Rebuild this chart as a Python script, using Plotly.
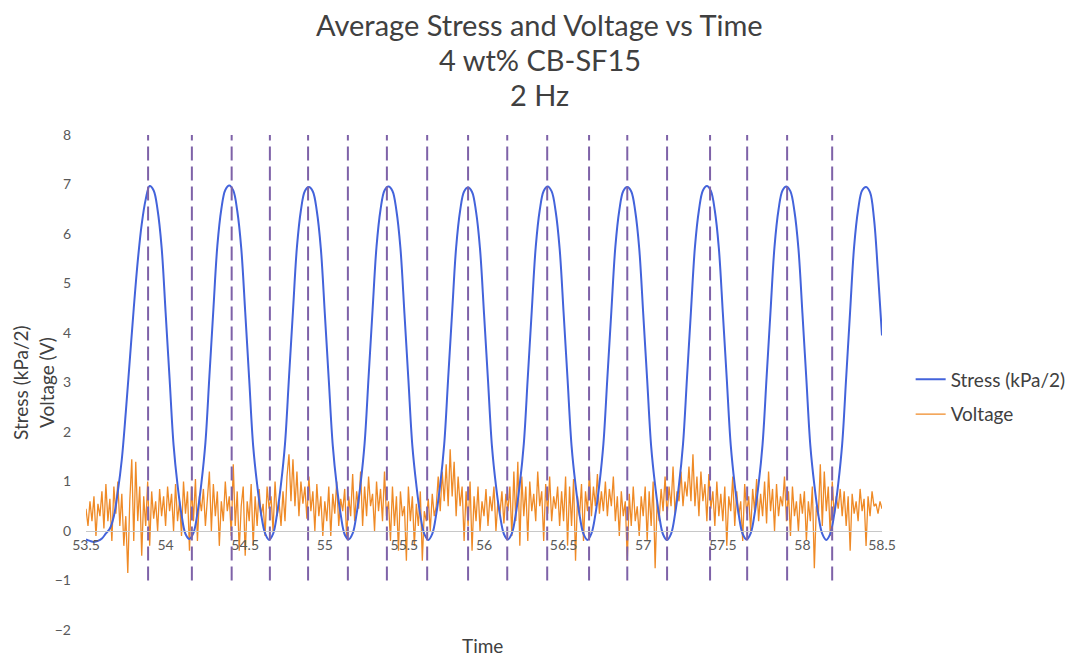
import numpy as np
import plotly.graph_objects as go

# ---- data -------------------------------------------------------------
# stress signal (kPa/2), sampled every 0.025 s starting at 53.5 s
STRESS_T0 = 53.5
STRESS_DT = 0.025
stress = [
    -0.17, -0.2, -0.22, -0.2, -0.15, -0.05, 0.05, 0.3, 0.8, 1.45, 2.4, 3.45, 4.5, 5.45, 6.2, 6.7, 6.97, 6.88, 6.48, 5.73,
    4.42, 3.08, 1.74, 0.93, 0.33, -0.06, -0.16, -0.04, 0.36, 0.97, 1.78, 3.12, 4.47, 5.76, 6.5, 6.89, 6.98, 6.88, 6.47, 5.72,
    4.43, 3.07, 1.72, 0.94, 0.34, -0.05, -0.18, -0.06, 0.34, 0.95, 1.76, 3.1, 4.44, 5.74, 6.48, 6.87, 6.95, 6.86, 6.46, 5.71,
    4.4, 3.05, 1.73, 0.92, 0.33, -0.07, -0.17, -0.05, 0.35, 0.96, 1.77, 3.11, 4.46, 5.75, 6.49, 6.88, 6.96, 6.87, 6.47, 5.72,
    4.41, 3.06, 1.72, 0.93, 0.32, -0.06, -0.18, -0.06, 0.34, 0.94, 1.75, 3.09, 4.43, 5.73, 6.47, 6.86, 6.94, 6.85, 6.45, 5.7,
    4.4, 3.05, 1.71, 0.92, 0.33, -0.06, -0.17, -0.05, 0.35, 0.95, 1.76, 3.1, 4.45, 5.74, 6.48, 6.87, 6.96, 6.86, 6.46, 5.71,
    4.41, 3.06, 1.72, 0.93, 0.33, -0.06, -0.18, -0.05, 0.34, 0.95, 1.76, 3.1, 4.44, 5.74, 6.48, 6.87, 6.95, 6.86, 6.46, 5.71,
    4.4, 3.05, 1.71, 0.92, 0.32, -0.07, -0.18, -0.06, 0.34, 0.94, 1.75, 3.09, 4.44, 5.74, 6.48, 6.88, 6.97, 6.87, 6.47, 5.72,
    4.42, 3.07, 1.73, 0.93, 0.33, -0.06, -0.17, -0.05, 0.35, 0.95, 1.76, 3.1, 4.45, 5.75, 6.49, 6.88, 6.96, 6.86, 6.46, 5.71,
    4.41, 3.06, 1.72, 0.93, 0.33, -0.06, -0.18, -0.06, 0.34, 0.95, 1.76, 3.1, 4.45, 5.75, 6.49, 6.88, 6.95, 6.84, 6.3, 5.2,
    3.95,
]

# voltage signal (V), sampled every 0.0125 s starting at 53.5 s
VOLT_T0 = 53.5
VOLT_DT = 0.0125
voltage = [
    0.45, 0.1, 0.6, 0.2, 0.7, -0.1, 0.55, 0.3, 0.8, 0.05, 0.95, 0.2, 0.65, -0.2, 0.9, 0.35, 1.0, 0.1, 0.75, -0.3,
    0.3, -0.85, 0.6, 1.45, -0.2, 1.4, 0.2, 0.9, -0.5, 0.7, 0.1, 1.0, -0.3, 0.8, 0.25, 0.6, 0.0, 0.85, 0.3, 0.7,
    0.1, 0.9, 0.4, 0.75, 0.0, 0.95, 0.2, 0.6, -0.1, 1.0, 0.35, 0.8, -0.4, 0.9, 0.2, 1.05, -0.2, 0.7, 0.4, 0.85,
    0.1, 0.75, 1.2, 0.0, 0.95, 0.3, 0.8, -0.3, 0.6, 0.2, 1.0, 0.4, 0.7, -0.1, 1.35, 0.1, 0.8, -0.4, 0.5, 0.9,
    -0.5, 0.6, 0.2, 0.95, -0.3, 0.7, 0.1, 0.85, 0.3, 0.55, -0.1, 0.9, 0.45, 0.7, 0.0, 1.0, 0.3, 0.6, 0.1, 0.8,
    0.2, 1.1, 1.55, 0.6, 1.45, 0.5, 1.2, 0.3, 1.0, 0.55, 0.9, 0.25, 1.1, 0.4, 0.8, 0.0, 0.95, 0.3, 0.7, -0.1,
    0.6, 0.2, 0.9, -0.1, 0.75, 0.35, 1.0, 0.1, 0.65, 0.4, 0.85, -0.15, 0.7, 0.3, 1.15, 0.2, 0.8, 0.45, 1.2, 0.1,
    0.9, 0.3, 1.1, 0.5, 0.75, 0.0, 1.0, 0.4, 0.85, 0.2, 1.2, 0.3, 0.6, -0.2, 0.9, 0.1, 0.7, -0.4, 0.8, 0.3,
    0.5, -0.6, 0.9, 0.2, 0.7, -0.3, 0.55, 0.1, 0.8, -0.6, 0.4, 0.2, 0.65, 0.0, 0.75, 0.3, 0.5, 1.1, 0.4, 1.2,
    0.6, 1.35, 0.5, 1.65, 0.7, 1.4, 0.3, 1.1, 0.5, 0.9, -0.2, 0.8, 0.1, 1.0, -0.4, 0.7, 0.2, 0.9, 0.0, 0.6,
    0.3, 0.85, 0.1, 0.7, 0.4, 0.9, 0.0, 0.6, 0.35, 0.8, 0.15, 0.75, 0.4, 0.9, -0.1, 1.2, 0.2, 1.4, -0.3, 1.1,
    0.3, 0.9, -0.2, 1.0, 0.4, 0.75, 0.2, 1.2, 0.5, 0.8, -0.2, 0.95, 0.35, 1.1, 0.2, 0.7, 0.45, 0.9, 0.1, 0.8,
    0.2, 1.1, -0.3, 0.9, 0.1, 1.05, -0.6, 0.7, 0.3, 0.95, -0.2, 0.8, 0.4, 1.2, 0.3, 0.9, 0.5, 1.15, 0.35, 0.8,
    0.4, 1.0, 0.3, 0.85, 0.5, 1.1, 0.2, 0.7, -0.1, 0.8, 0.3, 0.6, -0.6, 0.75, 0.1, 0.9, 0.2, 0.5, -0.1, 0.7,
    0.3, 0.9, -0.2, 0.8, 0.1, 1.0, -0.75, 0.6, 0.2, 0.85, 0.4, 1.1, 0.3, 0.9, 0.5, 1.3, 0.35, 0.8, 0.6, 1.2,
    0.5, 1.0, 0.7, 1.3, 0.6, 1.55, 0.5, 1.1, 0.3, 1.2, 0.6, 0.95, 0.2, 1.15, 0.45, 0.8, 0.1, 1.0, 0.3, 0.75,
    0.2, 0.9, -0.3, 0.7, 0.4, 1.1, 0.1, 0.8, 0.3, 0.6, -0.2, 0.95, 0.35, 0.7, 0.0, 0.85, 0.4, 1.05, 0.2, 0.75,
    0.3, 1.0, 0.15, 1.2, 0.4, 0.85, 0.0, 0.95, 0.3, 0.7, 0.5, 1.1, 0.2, 0.8, -0.1, 0.9, 0.3, 0.6, 0.0, 0.75,
    0.35, 0.8, -0.2, 0.6, 0.2, 0.9, -0.75, 0.5, 0.3, 1.35, 0.1, 1.2, 0.4, 0.9, -0.1, 1.0, 0.3, 0.7, 0.45, 0.85,
    0.3, 0.8, 0.1, 0.7, -0.4, 0.75, 0.35, 0.6, 0.2, 0.85, 0.4, 0.65, -0.3, 0.7, 0.3, 0.8, 0.5, 0.55, 0.35, 0.6,
    0.45,
]

# times of the stress peaks / troughs that are marked with vertical dashed lines
marker_times = [53.89, 54.165, 54.415, 54.655, 54.895, 55.145, 55.39, 55.643, 55.90,
                56.146, 56.397, 56.66, 56.90, 57.15, 57.42, 57.653, 57.904, 58.187]
MARKER_Y = (-1, 8)

x_ticks = [53.5, 54, 54.5, 55, 55.5, 56, 56.5, 57, 57.5, 58, 58.5]
x_ticktext = ["53.5", "54", "54.5", "55", "55.5", "56", "56.5", "57", "57.5", "58", "58.5"]
y_ticks = [-2, -1, 0, 1, 2, 3, 4, 5, 6, 7, 8]

title_lines = ["Average Stress and Voltage vs Time", "4 wt% CB-SF15", "2 Hz"]

# ---- figure -----------------------------------------------------------
FONT = "Lato, 'Open Sans', sans-serif"
TEXT = "#404040"
TICK = "#595959"

PLOT_TOP, PLOT_H = 135, 495   # plot area in pixels (top edge, height)


def paper_y(py):
    """Convert a pixel row into a paper y coordinate."""
    return 1 - (py - PLOT_TOP) / PLOT_H


t_stress = STRESS_T0 + STRESS_DT * np.arange(len(stress))
t_volt = VOLT_T0 + VOLT_DT * np.arange(len(voltage))

mx, my = [], []
for t in marker_times:
    mx += [t, t, None]
    my += [MARKER_Y[0], MARKER_Y[1], None]

fig = go.Figure()
fig.add_trace(go.Scatter(
    x=t_volt, y=voltage, mode="lines", name="Voltage",
    line=dict(color="#EF8A26", width=1.3), legendgroup="v", legendrank=2,
))
fig.add_trace(go.Scatter(
    x=t_stress, y=stress, mode="lines", name="Stress (kPa/2)",
    line=dict(color="#4363DB", width=2, shape="spline"), legendgroup="s", legendrank=1,
))
fig.add_trace(go.Scatter(
    x=mx, y=my, mode="lines", showlegend=False, hoverinfo="skip",
    line=dict(color="#7E62A8", width=2, dash="14px,6px"),
))

annotations = []
for line_text, py in zip(title_lines, [25, 60, 95]):
    annotations.append(dict(
        text=line_text, xref="paper", yref="paper",
        x=(539 - 86) / 795, y=paper_y(py), xanchor="center", yanchor="middle",
        showarrow=False, font=dict(family=FONT, size=29, color=TEXT),
    ))
annotations += [
    dict(text="Time", xref="paper", yref="paper", x=(482 - 86) / 795, y=paper_y(645),
         xanchor="center", yanchor="middle", showarrow=False,
         font=dict(family=FONT, size=19, color=TEXT)),
    dict(text="Stress (kPa/2)", xref="paper", yref="paper", x=(20 - 86) / 795, y=paper_y(382),
         xanchor="center", yanchor="middle", showarrow=False, textangle=-90,
         font=dict(family=FONT, size=19, color=TEXT)),
    dict(text="Voltage (V)", xref="paper", yref="paper", x=(46 - 86) / 795, y=paper_y(382),
         xanchor="center", yanchor="middle", showarrow=False, textangle=-90,
         font=dict(family=FONT, size=19, color=TEXT)),
]

fig.update_layout(
    width=1076, height=657,
    margin=dict(l=86, r=194, t=135, b=27, autoexpand=False),
    paper_bgcolor="white", plot_bgcolor="white",
    font=dict(family=FONT, color=TEXT),
    showlegend=True,
    legend=dict(
        x=1.036, xanchor="left", y=paper_y(397), yanchor="middle",
        font=dict(family=FONT, size=19, color=TEXT),
        tracegroupgap=7, itemwidth=30,
        bgcolor="rgba(0,0,0,0)",
    ),
    xaxis=dict(
        range=[53.5, 58.5], tickvals=x_ticks, ticktext=x_ticktext,
        anchor="free", position=0.2,
        showline=True, linecolor="#C8C8C8", linewidth=1,
        showgrid=False, zeroline=False, ticks="",
        ticklabelstandoff=1,
        tickfont=dict(family=FONT, size=14, color=TICK),
    ),
    yaxis=dict(
        range=[-2, 8], tickvals=y_ticks, domain=[0, 1],
        showline=False, showgrid=False, zeroline=False, ticks="",
        ticklabelstandoff=14,
        tickfont=dict(family=FONT, size=14, color=TICK),
    ),
    annotations=annotations,
)

fig.write_html("out.html")
